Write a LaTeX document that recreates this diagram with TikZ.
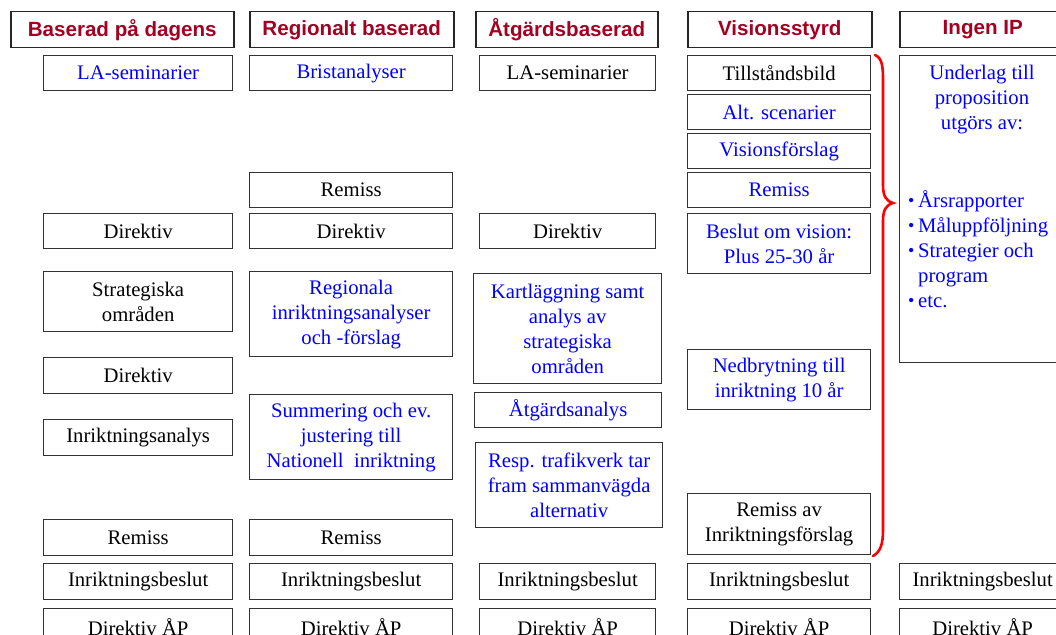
\documentclass[tikz,border=0pt]{standalone}
\usepackage{fontspec}
\setmainfont{Liberation Serif}
\newfontfamily\hdrfont{Liberation Sans}
\definecolor{hdrred}{RGB}{165,0,33}
\definecolor{txtblue}{RGB}{0,0,255}
\definecolor{edge}{RGB}{50,50,50}
\newcommand{\mybul}{\makebox[10pt][l]{\raisebox{0.5pt}{\fontsize{18}{18}\selectfont\textbullet}}}
\begin{document}
\begin{tikzpicture}[x=1pt,y=-1pt,
  base/.style={draw=edge,line width=1.3pt,inner sep=0pt,align=center,anchor=north west,
    font=\fontsize{20.7}{25}\selectfont},
  hdr/.style={base,line width=1.5pt,draw=black!85,text=hdrred,font=\hdrfont\bfseries\fontsize{20.6}{25}\selectfont},
  bk/.style={base,text=black},
  bl/.style={base,text=txtblue}]
\useasboundingbox (0,0) rectangle (1056,634);
\clip (0,0) rectangle (1056,634);
% headers
\node[hdr,minimum width=223,minimum height=36] (h1) at (10,11) {Baserad på dagens};
\node[hdr,minimum width=204,minimum height=36] (h2) at (249,11) {Regionalt baserad};
\node[hdr,minimum width=182,minimum height=36] (h3) at (475,11) {Åtgärdsbaserad};
\node[hdr,minimum width=184,minimum height=36] (h4) at (687,11) {Visionsstyrd};
\node[hdr,minimum width=166,minimum height=36] (h5) at (899,11) {Ingen IP};
% column 1
\node[bl,minimum width=189,minimum height=35] (a1) at (43,55) {LA-seminarier};
\node[bk,minimum width=189,minimum height=35] (a2) at (43,213) {Direktiv};
\node[bk,minimum width=189,minimum height=60] (a3) at (43,271) {Strategiska\\områden};
\node[bk,minimum width=189,minimum height=36] (a4) at (43,357) {Direktiv};
\node[bk,minimum width=189,minimum height=36] (a5) at (43,419) {Inriktningsanalys};
\node[bk,minimum width=189,minimum height=36] (a6) at (43,519) {Remiss};
\node[bk,minimum width=189,minimum height=36] (a7) at (43,563) {Inriktningsbeslut};
\node[bk,minimum width=189,minimum height=36] (a8) at (43,608) {Direktiv ÅP};
% column 2
\node[bl,minimum width=203,minimum height=35] (b1) at (249,55) {Bristanalyser};
\node[bk,minimum width=203,minimum height=35] (b2) at (249,172) {Remiss};
\node[bk,minimum width=203,minimum height=35] (b3) at (249,213) {Direktiv};
\node[bl,minimum width=203,minimum height=85] (b4) at (249,271) {Regionala\\inriktningsanalyser\\och -förslag};
\node[bl,minimum width=203,minimum height=85] (b5) at (249,394) {Summering och ev.\\justering till\\Nationell\ \ inriktning};
\node[bk,minimum width=203,minimum height=36] (b6) at (249,519) {Remiss};
\node[bk,minimum width=203,minimum height=36] (b7) at (249,563) {Inriktningsbeslut};
\node[bk,minimum width=203,minimum height=36] (b8) at (249,608) {Direktiv ÅP};
% column 3
\node[bk,minimum width=176,minimum height=35] (c1) at (479,55) {LA-seminarier};
\node[bk,minimum width=176,minimum height=35] (c2) at (479,213) {Direktiv};
\node[bl,minimum width=188,minimum height=110] (c3) at (473,273) {Kartläggning samt\\analys av\\strategiska\\områden};
\node[bl,minimum width=187,minimum height=35] (c4) at (474,392) {Åtgärdsanalys};
\node[bl,minimum width=187,minimum height=85] (c5) at (475,442) {Resp. trafikverk tar\\fram sammanvägda\\alternativ};
\node[bk,minimum width=176,minimum height=36] (c6) at (479,563) {Inriktningsbeslut};
\node[bk,minimum width=176,minimum height=36] (c7) at (479,608) {Direktiv ÅP};
% column 4
\node[bk,minimum width=183,minimum height=35] (d1) at (687,55) {Tillståndsbild};
\node[bl,minimum width=183,minimum height=35] (d2) at (687,94) {Alt. scenarier};
\node[bl,minimum width=183,minimum height=35] (d3) at (687,133) {Visionsförslag};
\node[bl,minimum width=183,minimum height=35] (d4) at (687,172) {Remiss};
\node[bl,minimum width=183,minimum height=60] (d5) at (687,213) {Beslut om vision:\\Plus 25-30 år};
\node[bl,minimum width=183,minimum height=60] (d6) at (687,349) {Nedbrytning till\\inriktning 10 år};
\node[bk,minimum width=183,minimum height=61] (d7) at (687,493) {Remiss av\\Inriktningsförslag};
\node[bk,minimum width=183,minimum height=36] (d8) at (687,563) {Inriktningsbeslut};
\node[bk,minimum width=183,minimum height=36] (d9) at (687,608) {Direktiv ÅP};
% column 5
\node[base,minimum width=166,minimum height=307] (e1) at (899,55) {};
\node[text=txtblue,align=center,inner sep=0pt,font=\fontsize{20.7}{25}\selectfont] (e1t) at (982,100) {Underlag till\\proposition\\utgörs av:};
\node[text=txtblue,align=left,inner sep=0pt,anchor=north west,font=\fontsize{20.7}{25}\selectfont] (e1l) at (908,190)
 {\mybul Årsrapporter\\\mybul Måluppföljning\\\mybul Strategier och\\\makebox[10pt]{}program\\\mybul etc.};
\node[bk,minimum width=166,minimum height=36] (e2) at (899,563) {Inriktningsbeslut};
\node[bk,minimum width=166,minimum height=36] (e3) at (899,608) {Direktiv ÅP};
% brace
\coordinate (br1) at (875,55);
\coordinate (br2) at (893,203);
\coordinate (br3) at (873,556);
\draw[red,line width=2.6pt,line cap=round] (br1) .. controls (882,58) and (883,66) .. (883,80)
  -- (883,185) .. controls (883,196) and (886,201) .. (br2)
  .. controls (886,205) and (883,210) .. (883,221) -- (883,530)
  .. controls (883,545) and (880,552) .. (br3);
\end{tikzpicture}
\end{document}
